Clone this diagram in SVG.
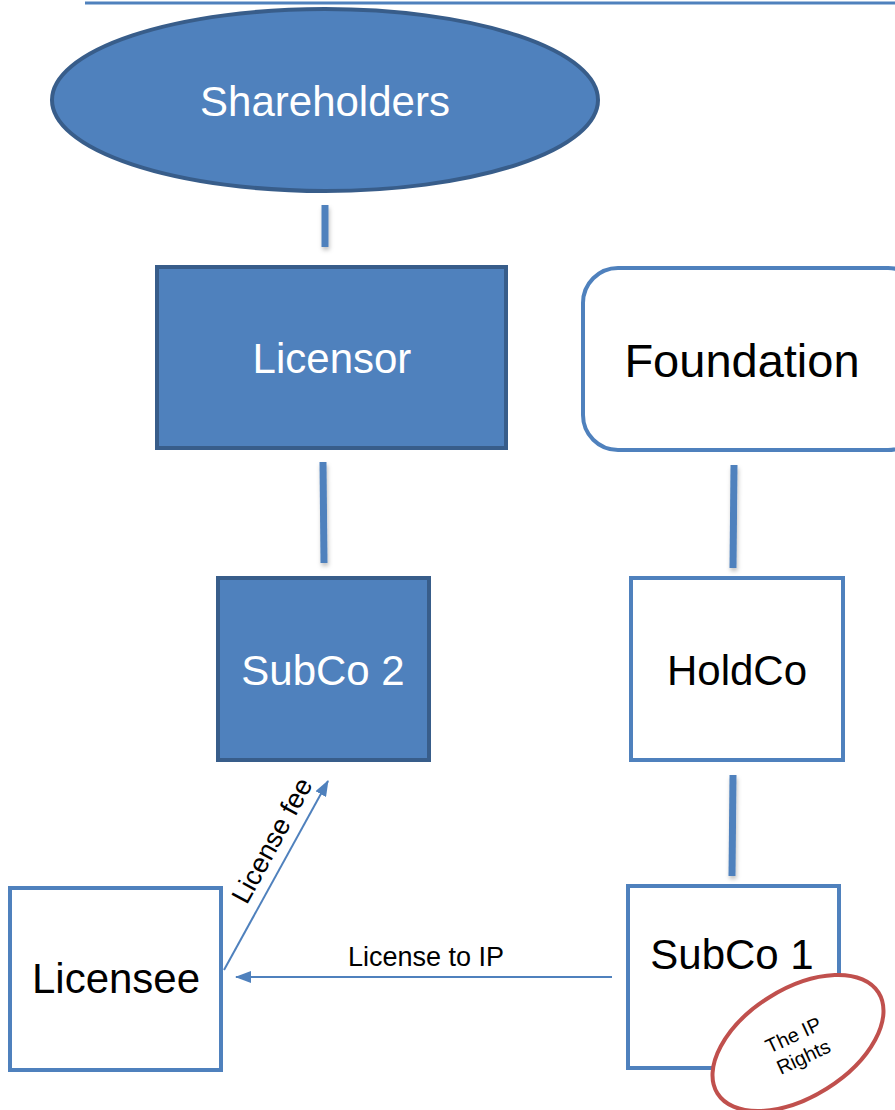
<svg xmlns="http://www.w3.org/2000/svg" width="895" height="1110" viewBox="0 0 895 1110">
<defs>
<style>
.dark{fill:#4F81BD;stroke:#385D8A;stroke-width:4}
.light{fill:#FFFFFF;stroke:#4F81BD;stroke-width:4}
.lbl{font-family:"Liberation Sans",Arial,sans-serif;text-anchor:middle}
.w{fill:#FFFFFF}
.b{fill:#000000}
.conn{stroke:#4F81BD;stroke-width:7;fill:none}
.arr{stroke:#4F81BD;stroke-width:2;fill:none}
</style>
<filter id="sh" x="-50%" y="-20%" width="200%" height="140%">
<feDropShadow dx="1" dy="3" stdDeviation="2" flood-color="#000000" flood-opacity="0.25"/>
</filter>
<marker id="ah2" markerWidth="16" markerHeight="12" refX="15" refY="6" orient="auto" markerUnits="userSpaceOnUse">
<path d="M0,0 L16,6 L0,12 z" fill="#4F81BD"/>
</marker>
</defs>
<rect width="895" height="1110" fill="#FFFFFF"/>
<line x1="85" y1="3" x2="895" y2="3" stroke="#4F81BD" stroke-width="3"/>

<g id="connectors">
<g filter="url(#sh)">
<line class="conn" x1="325" y1="205" x2="325" y2="247"/>
<line class="conn" x1="323" y1="462" x2="324" y2="563"/>
<line class="conn" x1="734" y1="465" x2="733" y2="568"/>
<line class="conn" x1="733" y1="775" x2="732" y2="876"/>
</g>
<line class="arr" x1="612" y1="977" x2="236" y2="977" marker-end="url(#ah2)"/>
<line class="arr" x1="224" y1="970" x2="328" y2="781" marker-end="url(#ah2)"/>
<text class="lbl b" x="426" y="966" font-size="27">License to IP</text>
<text class="lbl b" x="0" y="0" font-size="27" transform="translate(280,845) rotate(-61.3)">License fee</text>
</g>

<g id="shareholders">
<ellipse class="dark" cx="325" cy="100" rx="273" ry="91"/>
<text class="lbl w" x="325" y="116" font-size="42">Shareholders</text>
</g>

<g id="licensor">
<rect class="dark" x="157" y="267" width="349" height="181"/>
<text class="lbl w" x="332" y="373" font-size="42">Licensor</text>
</g>

<g id="foundation">
<rect class="light" x="583" y="268" width="340" height="182" rx="35" ry="35"/>
<text class="lbl b" x="742" y="377" font-size="47">Foundation</text>
</g>

<g id="subco2">
<rect class="dark" x="218" y="578" width="211" height="182"/>
<text class="lbl w" x="323" y="685" font-size="42">SubCo 2</text>
</g>

<g id="holdco">
<rect class="light" x="631" y="578" width="212" height="182"/>
<text class="lbl b" x="737" y="685" font-size="42">HoldCo</text>
</g>

<g id="licensee">
<rect class="light" x="10" y="888" width="211" height="182"/>
<text class="lbl b" x="116" y="993" font-size="42">Licensee</text>
</g>

<g id="subco1">
<rect class="light" x="628" y="886" width="211" height="182"/>
<text class="lbl b" x="732" y="969" font-size="42">SubCo 1</text>
</g>

<g id="iprights">
<ellipse cx="798" cy="1043" rx="95" ry="54" transform="rotate(-32 798 1043)" fill="#FFFFFF" stroke="#C0504D" stroke-width="4"/>
<g transform="rotate(-25 798 1045)">
<text class="lbl b" x="798" y="1041" font-size="20">The IP</text>
<text class="lbl b" x="798" y="1065" font-size="20">Rights</text>
</g>
</g>
</svg>
